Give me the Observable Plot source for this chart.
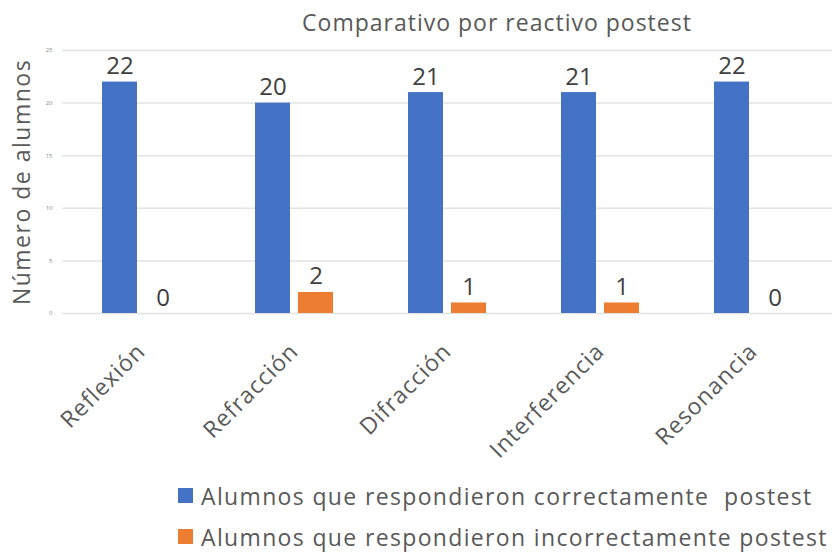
<!DOCTYPE html>
<html><head><meta charset="utf-8">
<script src="https://cdn.jsdelivr.net/npm/d3@7"></script>
<script src="https://cdn.jsdelivr.net/npm/@observablehq/plot@0.6"></script>
<style>
body{margin:0;background:#fff;font-family:"Open Sans",sans-serif;}
#wrap{position:relative;width:832px;height:554px;overflow:hidden;}
#title{position:absolute;z-index:2;top:6px;left:162px;width:670px;text-align:center;font-size:23px;letter-spacing:1px;color:#595959;line-height:32px;}
#chart{position:absolute;top:30px;left:0;}
#legend{position:absolute;top:475px;left:178px;font-size:23px;letter-spacing:1.35px;color:#595959;}
.row{display:flex;align-items:center;height:41px;}
.sw{width:15px;height:15px;margin-right:8px;}
g[aria-label="x-axis tick label"] text{letter-spacing:1px;}
.ylab text{letter-spacing:1.5px;}
</style></head>
<body><div id="wrap"><div id="title"></div><div id="chart"></div><div id="legend"></div></div>
<script>
const categories = ["Reflexión","Refracción","Difracción","Interferencia","Resonancia"];
const correctas = [22,20,21,21,22];
const incorrectas = [0,2,1,1,0];
const seriesNames = ["Alumnos que respondieron correctamente  postest","Alumnos que respondieron incorrectamente postest"];
const colors = ["#4472C4","#ED7D31"];
const yTicks = [0,5,10,15,20,25];
const title = "Comparativo por reactivo postest";
const yLabel = "Número de alumnos";

const dataC = categories.map((c,i)=>({cat:c,v:correctas[i]}));
const dataI = categories.map((c,i)=>({cat:c,v:incorrectas[i]}));

document.getElementById("title").textContent = title;

const plot = Plot.plot({
  width:832, height:450,
  marginLeft:62, marginRight:0, marginTop:20, marginBottom:167,
  style:{fontFamily:"Open Sans, sans-serif", color:"#595959", background:"transparent"},
  x:{domain:categories, paddingInner:0.49, paddingOuter:0.247, label:null},
  y:{domain:[0,25], ticks:yTicks, label:null},
  marks:[
    Plot.ruleY(yTicks,{stroke:"#e3e3e3", strokeWidth:1.5}),
    Plot.axisY({ticks:yTicks, tickSize:0, tickPadding:10, fontSize:6, label:null, fill:"#8a8a8a"}),
    Plot.axisX({tickSize:0, tickRotate:-45, fontSize:23, tickPadding:34, label:null, fill:"#595959"}),
    Plot.barY(dataC,{x:"cat", y:"v", fill:colors[0], insetRight:43}),
    Plot.barY(dataI,{x:"cat", y:"v", fill:colors[1], insetLeft:43}),
    Plot.text(dataC,{x:"cat", y:"v", text:d=>String(d.v), dx:-21.5, dy:-8, lineAnchor:"bottom", fontSize:24, fill:"#404040"}),
    Plot.text(dataI,{x:"cat", y:"v", text:d=>String(d.v), dx:21.5, dy:-8, lineAnchor:"bottom", fontSize:24, fill:"#404040"}),
    Plot.text([yLabel],{frameAnchor:"left", textAnchor:"middle", rotate:-90, dx:-40, fontSize:23, fill:"#595959", className:"ylab"})
  ]
});
document.getElementById("chart").appendChild(plot);

const leg = document.getElementById("legend");
seriesNames.forEach((n,i)=>{
  const r=document.createElement("div");r.className="row";
  const s=document.createElement("div");s.className="sw";s.style.background=colors[i];
  const t=document.createElement("span");t.textContent=n;t.style.whiteSpace="pre";
  r.appendChild(s);r.appendChild(t);leg.appendChild(r);
});
</script></body></html>
